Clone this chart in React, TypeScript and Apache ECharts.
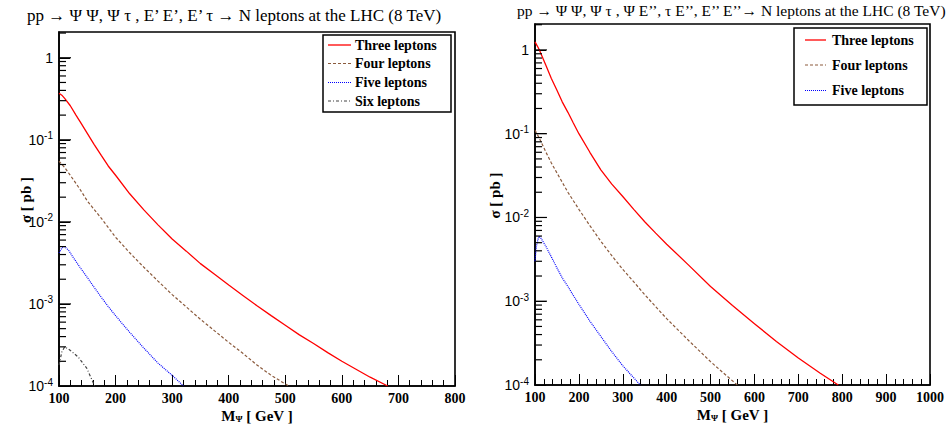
import React, { useEffect, useRef } from 'react';
import * as echarts from 'echarts';

const SERIF = '"Liberation Serif", "Times New Roman", serif';
const SANS = '"Liberation Sans", Arial, sans-serif';

// ---- data (GeV, pb) ----
const leftThree: [number, number][] = [[100, 0.37], [105, 0.35], [110, 0.32], [120, 0.26], [130, 0.2], [140, 0.155], [150, 0.12], [162, 0.088], [175, 0.064], [187, 0.048], [200, 0.037], [225, 0.022], [250, 0.014], [275, 0.0092], [300, 0.0062], [325, 0.0044], [350, 0.0031], [375, 0.0023], [400, 0.0017], [425, 0.00127], [450, 0.00095], [475, 0.00072], [500, 0.00055], [525, 0.00042], [550, 0.00033], [575, 0.000255], [600, 0.0002], [625, 0.00016], [650, 0.000128], [681, 0.0001]];
const leftFour: [number, number][] = [[100, 0.055], [110, 0.046], [125, 0.033], [137, 0.025], [150, 0.018], [175, 0.011], [200, 0.0065], [225, 0.0042], [250, 0.0028], [275, 0.0019], [300, 0.0013], [325, 0.00092], [350, 0.00065], [375, 0.00047], [400, 0.00034], [425, 0.00025], [450, 0.00018], [475, 0.000135], [506, 0.0001]];
const leftFive: [number, number][] = [[100, 0.0042], [105, 0.0048], [110, 0.005], [117, 0.0045], [125, 0.0037], [137, 0.0028], [150, 0.0021], [162, 0.0016], [175, 0.0012], [187, 0.00093], [200, 0.00072], [225, 0.00045], [250, 0.00029], [275, 0.00019], [300, 0.000135], [320, 0.0001]];
const leftSix: [number, number][] = [[100, 0.00018], [105, 0.00026], [110, 0.0003], [119, 0.000275], [134, 0.000225], [149, 0.000165], [158, 0.00012], [163, 0.0001]];

const rightThree: [number, number][] = [[100, 1.25], [105, 1.12], [110, 1.0], [117, 0.82], [125, 0.65], [137, 0.46], [150, 0.33], [162, 0.24], [175, 0.18], [187, 0.135], [200, 0.1], [225, 0.06], [250, 0.037], [275, 0.025], [300, 0.0178], [325, 0.0125], [350, 0.0089], [375, 0.0065], [400, 0.0048], [450, 0.0027], [500, 0.0015], [550, 0.00089], [600, 0.00054], [650, 0.00033], [700, 0.00021], [750, 0.000138], [791, 0.0001]];
const rightFour: [number, number][] = [[100, 0.11], [110, 0.088], [125, 0.06], [137, 0.045], [150, 0.034], [175, 0.02], [200, 0.0125], [225, 0.008], [250, 0.0052], [275, 0.0035], [300, 0.0024], [325, 0.0017], [350, 0.0012], [375, 0.00086], [400, 0.00062], [450, 0.00034], [500, 0.00019], [530, 0.000138], [561, 0.0001]];
const rightFive: [number, number][] = [[100, 0.003], [103, 0.0045], [107, 0.0055], [110, 0.006], [115, 0.0055], [125, 0.0045], [137, 0.0034], [150, 0.0025], [162, 0.0019], [175, 0.0015], [187, 0.00118], [200, 0.00092], [225, 0.00058], [250, 0.00038], [275, 0.00025], [300, 0.00017], [320, 0.00013], [340, 0.0001]];

const leftXTicks = { min: 100, max: 800, interval: 100 };
const rightXTicks = { min: 100, max: 1000, interval: 100 };
const yRange = { min: 0.0001, leftMax: 2.06, rightMax: 2.04 };

const GRID_W = 396;
const RED = '#ff0000';
const BROWN = '#8b5a3c';
const BLUE = '#0000ff';
const GREY = '#444444';

const styles = {
  three: { color: RED, type: 'solid' as any, width: 1.3 },
  four: { color: BROWN, type: [3, 2] as any, width: 1.2 },
  five: { color: BLUE, type: [1, 1] as any, width: 1.2 },
  six: { color: GREY, type: [3, 2, 1, 2] as any, width: 1.2 },
};

function yTickList(max: number) {
  const out: { v: number; major: boolean }[] = [];
  for (let e = -4; e <= 0; e++) {
    for (let m = 1; m <= 9; m++) {
      const v = m * Math.pow(10, e);
      if (v >= max) continue;
      if (e === -4 && m === 1) continue;
      out.push({ v, major: m === 1 });
    }
  }
  return out;
}

// y-axis ticks drawn as short line segments through the axis scales
function yTickSeries(idx: number, t: { min: number; max: number }, yMax: number) {
  const perPx = (t.max - t.min) / GRID_W;
  return yTickList(yMax).map((k) => ({
    type: 'line',
    xAxisIndex: idx,
    yAxisIndex: idx,
    silent: true,
    clip: false,
    showSymbol: false,
    symbol: 'none',
    z: 6,
    color: '#000',
    lineStyle: { color: '#000', width: 1.2, type: 'solid', opacity: 1 },
    emphasis: { disabled: true },
    data: [[t.min + 0.5 * perPx, k.v], [t.min + (k.major ? 12 : 7) * perPx, k.v]],
  }));
}

function yLabel(v: number) {
  const l = Math.log10(v);
  const r = Math.round(l);
  if (Math.abs(l - r) > 1e-6) return '';
  if (r === 0) return '{n|1}';
  return '{n|10}{e|' + r + '}';
}

const yLabelRich = {
  n: { fontFamily: SANS, fontSize: 14, color: '#000', lineHeight: 18 },
  e: { fontFamily: SANS, fontSize: 10, color: '#000', verticalAlign: 'top', lineHeight: 18, padding: [0, 0, 8, 0] },
};

const xNameRich = {
  m: { fontFamily: SERIF, fontWeight: 'bold', fontSize: 15, color: '#000', lineHeight: 18 },
  s: { fontFamily: SERIF, fontWeight: 'bold', fontSize: 9, color: '#000', lineHeight: 18, padding: [6, 0, 0, 0] },
};

function lineSeries(name: string, data: [number, number][], idx: number, st: any) {
  return {
    name,
    type: 'line',
    xAxisIndex: idx,
    yAxisIndex: idx,
    data,
    showSymbol: false,
    symbol: 'none',
    smooth: false,
    lineStyle: { color: st.color, width: st.width, type: st.type },
    z: 3,
  };
}

function xAxis(idx: number, t: { min: number; max: number; interval: number }) {
  return {
    type: 'value',
    gridIndex: idx,
    min: t.min,
    max: t.max,
    interval: t.interval,
    axisLine: { show: true, lineStyle: { color: '#000', width: 1.6 } },
    axisTick: { show: true, inside: true, length: 11, lineStyle: { color: '#000', width: 1 } },
    minorTick: { show: true, splitNumber: 5, length: 6, lineStyle: { color: '#000', width: 1 } },
    splitLine: { show: false },
    axisLabel: { fontFamily: SERIF, fontWeight: 'bold', fontSize: 14, color: '#000', margin: 5, formatter: (v: number) => String(v) },
    name: '{m|M}{s|Ψ}{m| [ GeV ]}',
    nameLocation: 'middle',
    nameGap: 21,
    nameMoveOverlap: false,
    nameTextStyle: { rich: xNameRich },
  };
}

function yAxis(idx: number, max: number, gap: number) {
  return {
    type: 'log',
    logBase: 10,
    gridIndex: idx,
    min: yRange.min,
    max,
    axisLine: { show: true, lineStyle: { color: '#000', width: 1.6 } },
    axisTick: { show: true, inside: true, length: 11, lineStyle: { color: '#000', width: 1 } },
    minorTick: { show: false },
    splitLine: { show: false },
    axisLabel: { formatter: yLabel, rich: yLabelRich, margin: 6, showMaxLabel: false },
    name: 'σ [ pb ]',
    nameLocation: 'middle',
    nameGap: gap,
    nameMoveOverlap: false,
    nameTextStyle: { fontFamily: SERIF, fontWeight: 'bold', fontSize: 15, color: '#000', padding: [0, 0, 0, 18] },
  };
}

function legendGroup(x: number, y: number, w: number, h: number, rowY: number[], lineX: [number, number], textX: number, items: { label: string; st: any }[], fontSize: number) {
  const children: any[] = [
    { type: 'rect', shape: { x, y, width: w, height: h }, style: { fill: '#fff', stroke: '#000', lineWidth: 1.5 } },
  ];
  items.forEach((it, i) => {
    children.push({
      type: 'line',
      shape: { x1: lineX[0], y1: rowY[i], x2: lineX[1], y2: rowY[i] },
      style: { stroke: it.st.color, lineWidth: it.st.width, lineDash: it.st.type === 'solid' ? null : it.st.type },
    });
    children.push({
      type: 'text',
      x: textX,
      y: rowY[i],
      style: { text: it.label, fontFamily: SERIF, fontWeight: 'bold', fontSize, fill: '#000', textAlign: 'left', textVerticalAlign: 'middle' },
    });
  });
  return { type: 'group', z: 10, children };
}

export default function App() {
  const ref = useRef<HTMLDivElement>(null);
  useEffect(() => {
    if (!ref.current) return;
    const chart = echarts.init(ref.current, undefined, { renderer: 'svg' });
    chart.setOption({
      animation: false,
      grid: [
        { left: 59, top: 32, width: GRID_W, height: 354, show: true, borderColor: '#000', borderWidth: 1.6 },
        { left: 535, top: 24, width: GRID_W, height: 361, show: true, borderColor: '#000', borderWidth: 1.6 },
      ],
      xAxis: [xAxis(0, leftXTicks), xAxis(1, rightXTicks)],
      yAxis: [yAxis(0, yRange.leftMax, 26), yAxis(1, yRange.rightMax, 33)],
      series: [
        lineSeries('Three leptons', leftThree, 0, styles.three),
        lineSeries('Four leptons', leftFour, 0, styles.four),
        lineSeries('Five leptons', leftFive, 0, styles.five),
        lineSeries('Six leptons', leftSix, 0, styles.six),
        lineSeries('Three leptons ', rightThree, 1, styles.three),
        lineSeries('Four leptons ', rightFour, 1, styles.four),
        lineSeries('Five leptons ', rightFive, 1, styles.five),
        ...yTickSeries(0, leftXTicks, yRange.leftMax),
        ...yTickSeries(1, rightXTicks, yRange.rightMax),
      ],
      graphic: [
        {
          type: 'text', x: 27, y: 15,
          style: { text: 'pp → Ψ Ψ, Ψ τ , E’ E’, E’ τ → N leptons at the LHC (8 TeV)', fontFamily: SERIF, fontSize: 17, fill: '#000', textAlign: 'left', textVerticalAlign: 'middle' },
        },
        {
          type: 'text', x: 517, y: 10,
          style: { text: 'pp → Ψ Ψ, Ψ τ , Ψ E’’, τ E’’, E’’ E’’→ N leptons at the LHC (8 TeV)', fontFamily: SERIF, fontSize: 15.5, fill: '#000', textAlign: 'left', textVerticalAlign: 'middle' },
        },
        legendGroup(323, 35, 128, 77, [45, 63.5, 82.5, 101], [328, 351], 355,
          [{ label: 'Three leptons', st: styles.three }, { label: 'Four leptons', st: styles.four }, { label: 'Five leptons', st: styles.five }, { label: 'Six leptons', st: styles.six }], 14),
        legendGroup(794, 28, 133, 77, [40, 65, 90.5], [805, 826], 832,
          [{ label: 'Three leptons', st: styles.three }, { label: 'Four leptons', st: styles.four }, { label: 'Five leptons', st: styles.five }], 14),
      ],
    });
    return () => chart.dispose();
  }, []);
  return <div ref={ref} style={{ position: 'fixed', left: 0, top: 0, width: 947, height: 429, background: '#fff' }} />;
}
